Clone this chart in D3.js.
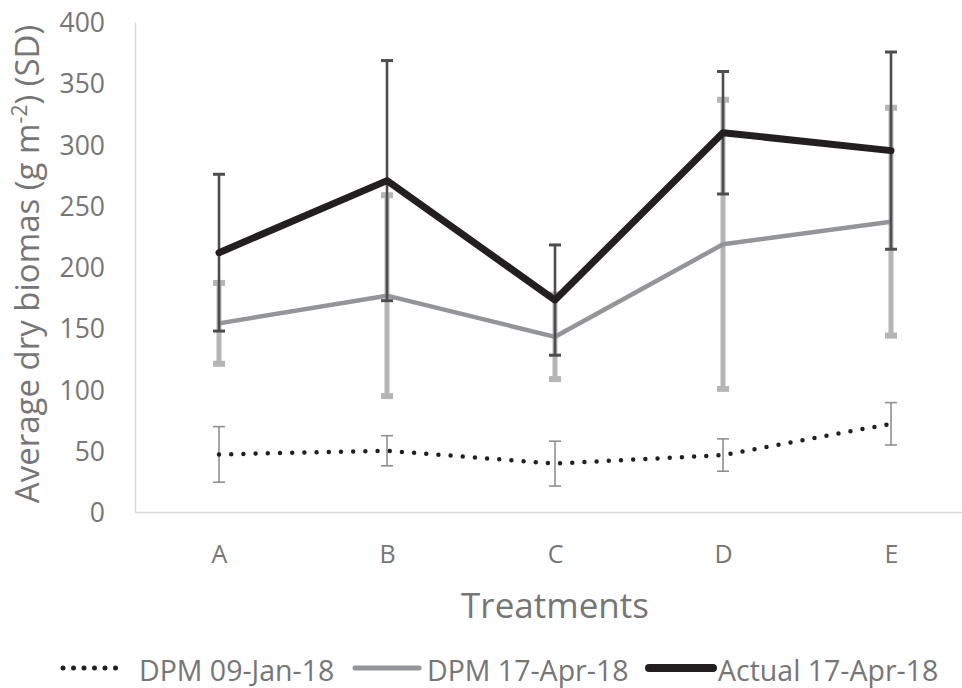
<!DOCTYPE html>
<html>
<head>
<meta charset="utf-8">
<script src="https://cdn.jsdelivr.net/npm/d3@7"></script>
<style>
  body { margin: 0; background: #fff; }
  svg text { font-family: "Open Sans", sans-serif; fill: #767676; }
</style>
</head>
<body>
<div id="chart"></div>
<script>
// treatments on the x axis
var treatments = ['A', 'B', 'C', 'D', 'E'];
var yTicks = [0, 50, 100, 150, 200, 250, 300, 350, 400];

// mean dry biomass and SD
var dpmJan = [47, 50, 39.5, 46.5, 72];
var dpmJanSD = [22.7, 12.3, 18.3, 13.2, 17.3];
var dpmApr = [154, 176.6, 143, 218.5, 237];
var dpmAprSD = [33, 82, 34.5, 118, 93];
var actualApr = [211.7, 270.5, 173, 309.6, 295];
var actualAprSD = [64, 98, 45, 50, 80.5];

var seriesNames = ['DPM 09-Jan-18', 'DPM 17-Apr-18', 'Actual 17-Apr-18'];

var width = 962, height = 688;
var padding = {top: 22, right: -13, bottom: 176, left: 135};

var svg = d3.select('#chart').append('svg')
    .attr('width', width)
    .attr('height', height);

var xScale = d3.scalePoint()
    .domain(treatments)
    .range([padding.left, width - padding.right])
    .padding(0.5);

var yScale = d3.scaleLinear()
    .domain([0, 400])
    .range([height - padding.bottom, padding.top]);

// axes
var yAxis = d3.axisLeft(yScale).tickValues(yTicks).tickSize(0).tickPadding(30);
var gy = svg.append('g')
    .attr('transform', 'translate(' + padding.left + ',0)')
    .call(yAxis);
gy.select('.domain').attr('stroke', '#d9d9d9').attr('stroke-width', 1.5);
gy.selectAll('text').attr('font-size', 26.5).attr('dy', '0.36em');

var xAxis = d3.axisBottom(xScale).tickSize(0).tickPadding(33);
var gx = svg.append('g')
    .attr('transform', 'translate(0,' + yScale(0) + ')')
    .call(xAxis);
gx.select('.domain').attr('stroke', '#d9d9d9').attr('stroke-width', 1.5);
gx.selectAll('text').attr('font-size', 25).attr('dy', '0.71em');

// axis titles
svg.append('text')
    .attr('x', 555)
    .attr('y', 618)
    .attr('text-anchor', 'middle')
    .attr('font-size', 35)
    .text('Treatments');

var yTitle = svg.append('text')
    .attr('transform', 'translate(39,' + 264 + ') rotate(-90)')
    .attr('text-anchor', 'middle')
    .attr('font-size', 33);
yTitle.append('tspan').text('Average dry biomas (g m');
yTitle.append('tspan').attr('font-size', 21).attr('dy', -12).text('-2');
yTitle.append('tspan').attr('dy', 12).text(') (SD)');

// error bars
function errorBars(means, sds, opt) {
    var g = svg.append('g');
    var d = means.map(function (m, i) { return {x: treatments[i], m: m, sd: sds[i]}; });
    g.selectAll('line.v').data(d).enter().append('line')
        .attr('x1', function (e) { return xScale(e.x); })
        .attr('x2', function (e) { return xScale(e.x); })
        .attr('y1', function (e) { return yScale(e.m + e.sd); })
        .attr('y2', function (e) { return yScale(e.m - e.sd); })
        .attr('stroke', opt.color)
        .attr('stroke-width', opt.w);
    ['+', '-'].forEach(function (s) {
        g.selectAll('line.c' + (s === '+' ? 'p' : 'm')).data(d).enter().append('line')
            .attr('x1', function (e) { return xScale(e.x) - opt.cap; })
            .attr('x2', function (e) { return xScale(e.x) + opt.cap; })
            .attr('y1', function (e) { return yScale(s === '+' ? e.m + e.sd : e.m - e.sd); })
            .attr('y2', function (e) { return yScale(s === '+' ? e.m + e.sd : e.m - e.sd); })
            .attr('stroke', opt.color)
            .attr('stroke-width', opt.capW);
    });
}

var line = d3.line()
    .x(function (d, i) { return xScale(treatments[i]); })
    .y(function (d) { return yScale(d); });

errorBars(dpmApr, dpmAprSD, {color: '#b5b5b5', w: 5, cap: 6, capW: 6});
errorBars(dpmJan, dpmJanSD, {color: '#8f8f8f', w: 1.6, cap: 6, capW: 1.6});

svg.append('path')
    .attr('d', line(dpmJan))
    .attr('fill', 'none')
    .attr('stroke', '#231f20')
    .attr('stroke-width', 4.5)
    .attr('stroke-linecap', 'round')
    .attr('stroke-dasharray', '0,12.2');

svg.append('path')
    .attr('d', line(dpmApr))
    .attr('fill', 'none')
    .attr('stroke', '#939598')
    .attr('stroke-width', 4.5)
    .attr('stroke-linejoin', 'round');

errorBars(actualApr, actualAprSD, {color: '#4d4d4d', w: 2.6, cap: 6, capW: 3});

svg.append('path')
    .attr('d', line(actualApr))
    .attr('fill', 'none')
    .attr('stroke', '#231f20')
    .attr('stroke-width', 7)
    .attr('stroke-linejoin', 'round')
    .attr('stroke-linecap', 'round');

// legend
var legendY = 668;
var legend = [
    {name: seriesNames[0], x1: 63, x2: 126, tx: 139, color: '#231f20', w: 5, dash: '0,10.5'},
    {name: seriesNames[1], x1: 355, x2: 419, tx: 427, color: '#939598', w: 5, dash: null},
    {name: seriesNames[2], x1: 649, x2: 713, tx: 718, color: '#231f20', w: 8, dash: null}
];
var lg = svg.append('g').selectAll('g').data(legend).enter().append('g');
lg.append('line')
    .attr('x1', function (d) { return d.x1; })
    .attr('x2', function (d) { return d.x2; })
    .attr('y1', legendY).attr('y2', legendY)
    .attr('stroke', function (d) { return d.color; })
    .attr('stroke-width', function (d) { return d.w; })
    .attr('stroke-linecap', 'round')
    .attr('stroke-dasharray', function (d) { return d.dash; });
lg.append('text')
    .attr('x', function (d) { return d.tx; })
    .attr('y', legendY + 3)
    .attr('dy', '0.36em')
    .attr('font-size', 28.5)
    .text(function (d) { return d.name; });
</script>
</body>
</html>
